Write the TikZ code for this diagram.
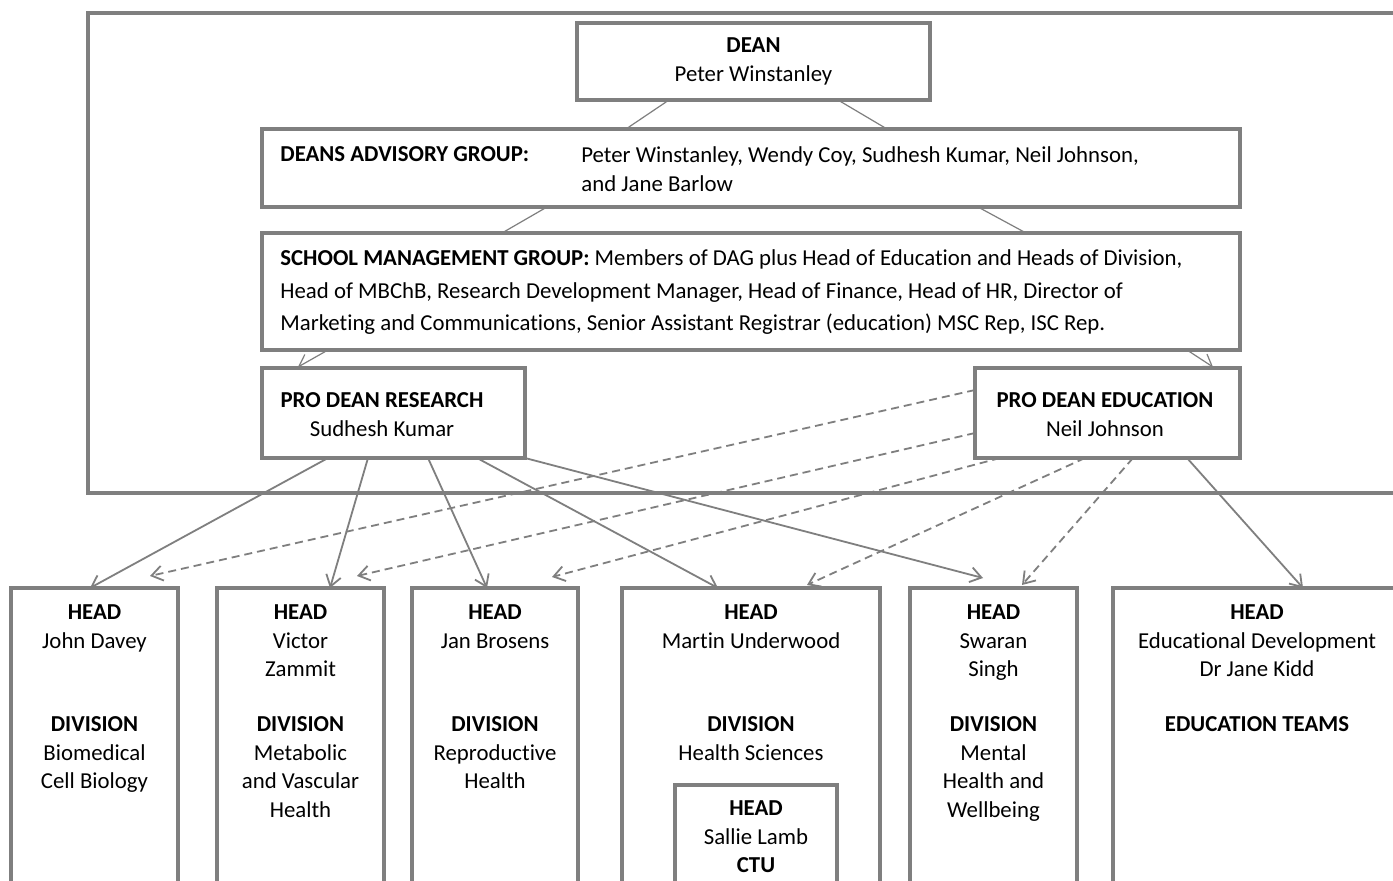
\documentclass[tikz,border=0pt]{standalone}
\usepackage{fontspec}
\setmainfont{Carlito}[Ligatures=NoCommon]
\usetikzlibrary{arrows.meta,calc}
\definecolor{OrgGrey}{HTML}{7F7F7F}
\tikzset{
  orgframe/.style={draw=OrgGrey,line width=1.6pt,inner sep=0pt,outer sep=0pt,anchor=north west},
  orgbox/.style={orgframe,fill=white},
  boxsize/.style 2 args={minimum width=#1*0.5pt,minimum height=#2*0.5pt},
  orgtext/.style={inner sep=0pt,font=\fontsize{11.4}{14.25}\selectfont},
  thinlink/.style={OrgGrey,line width=0.6pt},
  reportlink/.style={OrgGrey,line width=0.9pt,-{Straight Barb[length=5.5pt,width=7.5pt]}},
  advicelink/.style={reportlink,dash pattern=on 4pt off 2.5pt},
}

\begin{document}
\begin{tikzpicture}[x=0.5pt,y=-0.5pt]
  \path[use as bounding box,fill=white] (0,0) rectangle (1393,881);
  \clip (0,0) rectangle (1393,881);

  \node[orgframe,boxsize={1332}{480}] (faculty) at (88,13) {};

  \node[orgbox,boxsize={353}{77},orgtext,align=center] (dean) at (577,23)
    {\textbf{DEAN}\\Peter Winstanley};
  \node[orgbox,boxsize={978}{78}] (dag) at (262,129) {};
  \node[orgbox,boxsize={978}{117}] (smg) at (262,233) {};
  \node[orgbox,boxsize={263}{90}] (pdr) at (262,368) {};
  \node[orgbox,boxsize={265}{90}] (pde) at (975,368) {};

  \node[orgbox,boxsize={167}{320}] (hdbio) at (11,588) {};
  \node[orgbox,boxsize={167}{320}] (hdmvh) at (217,588) {};
  \node[orgbox,boxsize={166}{320}] (hdrep) at (412,588) {};
  \node[orgbox,boxsize={258}{320}] (hdhs) at (622,588) {};
  \node[orgbox,boxsize={167}{320}] (hdmhw) at (910,588) {};
  \node[orgbox,boxsize={288}{320}] (hdedu) at (1113,588) {};
  \node[orgbox,boxsize={162}{120}] (ctu) at (675,785) {};

  \node[orgtext,anchor=north west] (daglabel) at ($(dag.north west)+(18,17.5)$)
    {\textbf{DEANS ADVISORY GROUP:}};
  \node[orgtext,anchor=north west,align=left] (dagnames) at ($(dag.north west)+(319,17.5)$)
    {Peter Winstanley, Wendy Coy, Sudhesh Kumar, Neil Johnson,\\and Jane Barlow};
  \node[orgtext,anchor=north west,align=left,font=\fontsize{11.4}{16.25}\selectfont] (smgtext)
    at ($(smg.north west)+(18,16.5)$)
    {\textbf{SCHOOL MANAGEMENT GROUP:} Members of DAG plus Head of Education and Heads of Division,\\
     Head of MBChB, Research Development Manager, Head of Finance, Head of HR, Director of\\
     Marketing and Communications, Senior Assistant Registrar (education) MSC Rep, ISC Rep.};
  \node[orgtext,anchor=north,align=center] (pdrtext) at ($(pdr.north west)+(120,24.5)$)
    {\textbf{PRO DEAN RESEARCH}\\Sudhesh Kumar};
  \node[orgtext,anchor=north,align=center] (pdetext) at ($(pde.north west)+(130,24.5)$)
    {\textbf{PRO DEAN EDUCATION}\\Neil Johnson};

  \node[orgtext,anchor=north,align=center] (biohead) at ($(hdbio.north)+(0,16.5)$)
    {\textbf{HEAD}\\John Davey};
  \node[orgtext,anchor=north,align=center] (biodiv) at ($(hdbio.north)+(0,128.5)$)
    {\textbf{DIVISION}\\Biomedical\\Cell Biology};
  \node[orgtext,anchor=north,align=center] (mvhhead) at ($(hdmvh.north)+(0,16.5)$)
    {\textbf{HEAD}\\Victor\\Zammit};
  \node[orgtext,anchor=north,align=center] (mvhdiv) at ($(hdmvh.north)+(0,128.5)$)
    {\textbf{DIVISION}\\Metabolic\\and Vascular\\Health};
  \node[orgtext,anchor=north,align=center] (rephead) at ($(hdrep.north)+(0,16.5)$)
    {\textbf{HEAD}\\Jan Brosens};
  \node[orgtext,anchor=north,align=center] (repdiv) at ($(hdrep.north)+(0,128.5)$)
    {\textbf{DIVISION}\\Reproductive\\Health};
  \node[orgtext,anchor=north,align=center] (hshead) at ($(hdhs.north)+(0,16.5)$)
    {\textbf{HEAD}\\Martin Underwood};
  \node[orgtext,anchor=north,align=center] (hsdiv) at ($(hdhs.north)+(0,128.5)$)
    {\textbf{DIVISION}\\Health Sciences};
  \node[orgtext,anchor=north,align=center] (ctutext) at ($(ctu.north)+(0,15.5)$)
    {\textbf{HEAD}\\Sallie Lamb\\\textbf{CTU}};
  \node[orgtext,anchor=north,align=center] (mhwhead) at ($(hdmhw.north)+(0,16.5)$)
    {\textbf{HEAD}\\Swaran\\Singh};
  \node[orgtext,anchor=north,align=center] (mhwdiv) at ($(hdmhw.north)+(0,128.5)$)
    {\textbf{DIVISION}\\Mental\\Health and\\Wellbeing};
  \node[orgtext,anchor=north,align=center] (eduhead) at ($(hdedu.north)+(0,16.5)$)
    {\textbf{HEAD}\\Educational Development\\Dr Jane Kidd};
  \node[orgtext,anchor=north,align=center] (eduteams) at ($(hdedu.north)+(0,128.5)$)
    {\textbf{EDUCATION TEAMS}};

  \draw[thinlink] ($(dean.south west)+(92,0)$) -- ($(dag.north west)+(364,0)$);
  \draw[thinlink] ($(dean.south west)+(261,0)$) -- ($(dag.north west)+(625,0)$);
  \draw[thinlink] ($(dag.south west)+(285,0)$) -- ($(smg.north west)+(240,0)$);
  \draw[thinlink] ($(dag.south west)+(716,0)$) -- ($(smg.north west)+(764,0)$);
  \draw[thinlink,-{Straight Barb[length=5.5pt,width=7.5pt]}]
    ($(smg.south west)+(66,0)$) -- ($(pdr.north west)+(36,-1)$);
  \draw[thinlink,-{Straight Barb[length=5.5pt,width=7.5pt]}]
    ($(smg.south west)+(925,0)$) -- ($(pde.north west)+(238,-1)$);

  \draw[reportlink] ($(pdr.south west)+(66,0)$) -- ($(hdbio.north west)+(79,0)$);
  \draw[reportlink] ($(pdr.south west)+(106,0)$) -- ($(hdmvh.north west)+(113,0)$);
  \draw[reportlink] ($(pdr.south west)+(166,0)$) -- ($(hdrep.north west)+(75,0)$);
  \draw[reportlink] ($(pdr.south west)+(215,0)$) -- ($(hdhs.north west)+(96,0)$);
  \draw[reportlink] (pdr.south east) -- ($(hdmhw.north west)+(73,-10)$);
  \draw[reportlink] ($(pde.south west)+(212,0)$) -- ($(hdedu.north west)+(190,0)$);

  \draw[advicelink] ($(pde.north west)+(0,22)$) -- ($(hdbio.north west)+(139,-12)$);
  \draw[advicelink] ($(pde.north west)+(0,65)$) -- ($(hdmvh.north west)+(140,-12)$);
  \draw[advicelink] ($(pde.south west)+(25,0)$) -- ($(hdrep.north west)+(140,-11)$);
  \draw[advicelink] ($(pde.south west)+(110,0)$) -- ($(hdhs.north west)+(185,-3)$);
  \draw[advicelink] ($(pde.south west)+(158,0)$) -- ($(hdmhw.north west)+(112,-3)$);
\end{tikzpicture}
\end{document}
